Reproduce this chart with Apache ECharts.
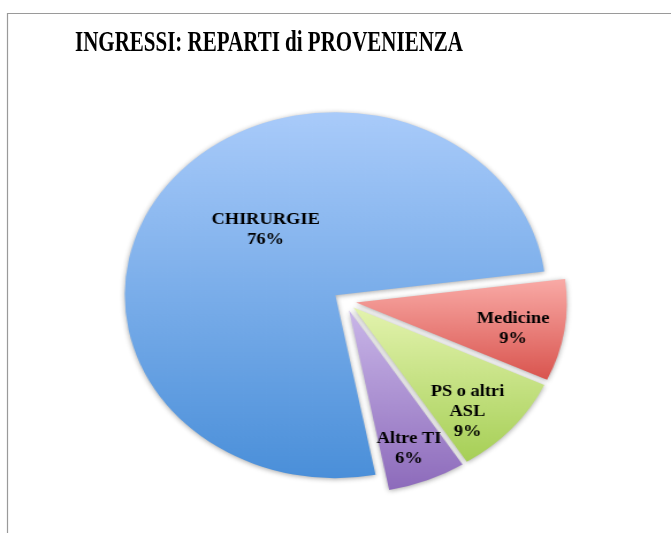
<!DOCTYPE html>
<html>
<head>
<meta charset="utf-8">
<title>INGRESSI: REPARTI di PROVENIENZA</title>
<script src="https://cdn.jsdelivr.net/npm/echarts@6/dist/echarts.min.js"></script>
<style>
  html, body { margin: 0; padding: 0; background: #fff; }
  #wrap { position: relative; width: 671px; height: 533px; overflow: hidden; }
  #frame { position: absolute; left: 0; top: 0; width: 671px; height: 533px; }
  /* the pie in the original is a bit wider than tall */
  #pie { position: absolute; left: 0; top: 0; width: 583px; height: 533px; transform-origin: 0 0; transform: scaleX(1.151); }
</style>
</head>
<body>
<div id="wrap">
  <div id="frame"></div>
  <div id="pie"></div>
</div>
<script>
// data
var categories = ['CHIRURGIE', 'Medicine', 'PS o altri\nASL', 'Altre TI'];
var values = [76, 9, 9, 6];

// slice gradients, top -> bottom
var topColors = ['#a9cbfa', '#f9aaa6', '#e3f3ae', '#c9b6e8'];
var bottomColors = ['#4a8fd9', '#d9544e', '#a6cf56', '#8d6bbb'];
// label nudges (excel puts the small labels further out)
var labelShift = [[16, -10], [43, 12], [28, 42], [17, 51]];

var frameChart = echarts.init(document.getElementById('frame'));
frameChart.setOption({
    animation: false,
    graphic: [
        {
            type: 'rect',
            shape: { x: 7.5, y: 13.5, width: 720, height: 600 },
            style: { fill: 'none', stroke: '#9a9a9a', lineWidth: 1.2 }
        },
        {
            type: 'text',
            x: 269, y: 43, scaleX: 0.7,
            style: {
                text: 'INGRESSI: REPARTI di PROVENIENZA',
                font: 'bold 30px "Liberation Serif"',
                fill: '#000',
                align: 'center',
                verticalAlign: 'middle'
            }
        }
    ]
});

var pieData = [];
for (var i = 0; i < categories.length; i++) {
    pieData.push({
        name: categories[i],
        value: values[i],
        selected: true,
        itemStyle: {
            color: {
                type: 'linear', x: 0, y: 0, x2: 0, y2: 1,
                colorStops: [
                    { offset: 0, color: topColors[i] },
                    { offset: 1, color: bottomColors[i] }
                ]
            }
        }
    });
}

var pieChart = echarts.init(document.getElementById('pie'));
pieChart.setOption({
    animation: false,
    series: [
        {
            type: 'pie',
            center: [299.5, 301],
            radius: 183,
            startAngle: 281,
            clockwise: true,
            selectedMode: 'multiple',
            selectedOffset: 10,
            percentPrecision: 0,
            avoidLabelOverlap: false,
            emphasis: { scale: false },
            itemStyle: {
                shadowBlur: 5,
                shadowColor: 'rgba(0,0,0,0.35)',
                shadowOffsetY: 1
            },
            label: {
                show: true,
                position: 'inside',
                formatter: '{b}\n{d}%',
                color: '#000',
                fontFamily: 'Liberation Serif',
                fontWeight: 'bold',
                fontSize: 16,
                lineHeight: 20,
                textBorderWidth: 0
            },
            labelLine: { show: false },
            labelLayout: function (params) {
                var s = labelShift[params.dataIndex];
                return { dx: s[0], dy: s[1] };
            },
            data: pieData
        }
    ]
});
</script>
</body>
</html>
